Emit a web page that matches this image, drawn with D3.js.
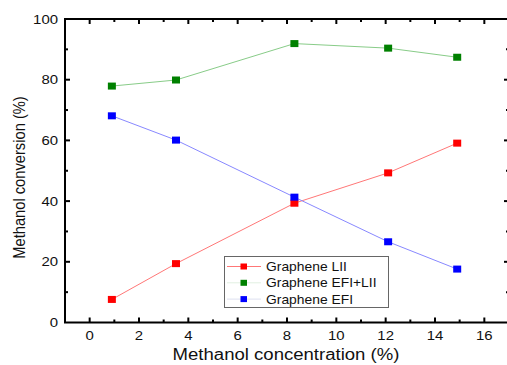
<!DOCTYPE html>
<meta charset="utf-8">
<head>
<title>Methanol conversion</title>
<style>
body { margin: 0; background-color: #FFF; }
text { font-family: 'Liberation Sans', Arial, sans-serif; fill: #111; }
.line { fill: none; stroke-width: 1px; }
</style>
</head>
<body>
<div id="chart"></div>
<script src="https://cdn.jsdelivr.net/npm/d3@7"></script>
<script>
var concentration = [0.9, 3.5, 8.3, 12.1, 14.9];
var lii    = [7.6, 19.4, 39.3, 49.3, 59.1];
var efiLii = [77.9, 79.9, 91.9, 90.4, 87.4];
var efi    = [68.1, 60.1, 41.3, 26.6, 17.6];
var seriesNames = ["Graphene LII", "Graphene EFI+LII", "Graphene EFI"];
var xTicks = [0, 2, 4, 6, 8, 10, 12, 14, 16];
var yTicks = [0, 20, 40, 60, 80, 100];

var width = 507, height = 365;
var stretch = 1.15; // the original picture is a bit wider than tall
var series = [
  {name: seriesNames[0], values: lii,    mark: "#f00",    line: "#f77", key: "#f77"},
  {name: seriesNames[1], values: efiLii, mark: "#008000", line: "#8c8", key: "#e2f0e2"},
  {name: seriesNames[2], values: efi,    mark: "#00f",    line: "#88f", key: "#dde0f0"}
];

var svg = d3.select("#chart").append("svg")
    .attr("width", width)
    .attr("height", height);

var x = d3.scaleLinear().domain([-1, 17]).range([65, 509]);
var y = d3.scaleLinear().domain([0, 100]).range([322.5, 19]);

// frame
svg.append("rect")
    .attr("x", x(-1)).attr("y", y(100))
    .attr("width", x(17) - x(-1)).attr("height", y(0) - y(100))
    .attr("fill", "none").attr("stroke", "#000").attr("stroke-width", 2);

var xMinor = d3.range(1, 17, 2), yMinor = d3.range(10, 100, 20);

function ticks(g, vals, len, axis) {
  vals.forEach(function(v) {
    if (axis == "x") {
      g.append("line").attr("x1", x(v)).attr("x2", x(v)).attr("y1", y(0)).attr("y2", y(0) - len);
      g.append("line").attr("x1", x(v)).attr("x2", x(v)).attr("y1", y(100)).attr("y2", y(100) + len);
    } else {
      g.append("line").attr("y1", y(v)).attr("y2", y(v)).attr("x1", x(-1)).attr("x2", x(-1) + len);
      g.append("line").attr("y1", y(v)).attr("y2", y(v)).attr("x1", x(17)).attr("x2", x(17) - len);
    }
  });
}
var tg = svg.append("g").attr("stroke", "#000").attr("stroke-width", 2);
ticks(tg, xTicks, 5, "x");
ticks(tg, xMinor, 3, "x");
ticks(tg, yTicks.slice(1, 5), 5, "y");
ticks(tg, yMinor, 3, "y");

svg.append("g").selectAll("text").data(xTicks).enter().append("text")
    .attr("transform", function(d) { return "translate(" + x(d) + ",339.5) scale(" + stretch + ",1)"; })
    .attr("text-anchor", "middle")
    .style("font-size", "13px")
    .text(function(d) { return d; });

svg.append("g").selectAll("text").data(yTicks).enter().append("text")
    .attr("transform", function(d) { return "translate(58," + (y(d) + 4.5) + ") scale(" + stretch + ",1)"; })
    .attr("text-anchor", "end")
    .style("font-size", "13px")
    .text(function(d) { return d; });

svg.append("text")
    .attr("transform", "translate(286,360) scale(1.16,1)")
    .attr("text-anchor", "middle")
    .style("font-size", "16px")
    .text("Methanol concentration (%)");

svg.append("text")
    .attr("transform", "translate(25,177.5) rotate(-90) scale(1,1.15)")
    .attr("text-anchor", "middle")
    .style("font-size", "14.7px")
    .text("Methanol conversion (%)");

var line = d3.line()
    .x(function(d, i) { return x(concentration[i]); })
    .y(function(d) { return y(d); });

series.forEach(function(s) {
  svg.append("path").attr("class", "line")
      .attr("d", line(s.values))
      .attr("stroke", s.line);
});
series.forEach(function(s) {
  svg.append("g").selectAll("rect").data(s.values).enter().append("rect")
      .attr("x", function(d, i) { return x(concentration[i]) - 4; })
      .attr("y", function(d) { return y(d) - 3.5; })
      .attr("width", 8).attr("height", 7)
      .attr("fill", s.mark);
});

// legend
var lg = svg.append("g");
lg.append("rect")
    .attr("x", 224.5).attr("y", 256.5).attr("width", 164).attr("height", 51)
    .attr("fill", "#fff").attr("stroke", "#666").attr("stroke-width", 1);
series.forEach(function(s, i) {
  var ly = 266.5 + i * 16.3;
  lg.append("line").attr("x1", 227).attr("x2", 261).attr("y1", ly).attr("y2", ly)
      .attr("stroke", s.key);
  lg.append("rect").attr("x", 240.5).attr("y", ly - 3).attr("width", 6.5).attr("height", 6)
      .attr("fill", s.mark);
  lg.append("text")
      .attr("transform", "translate(266," + (ly + 4.5) + ") scale(1.1,1)")
      .style("font-size", "12.6px")
      .text(s.name);
});
</script>
</body>
